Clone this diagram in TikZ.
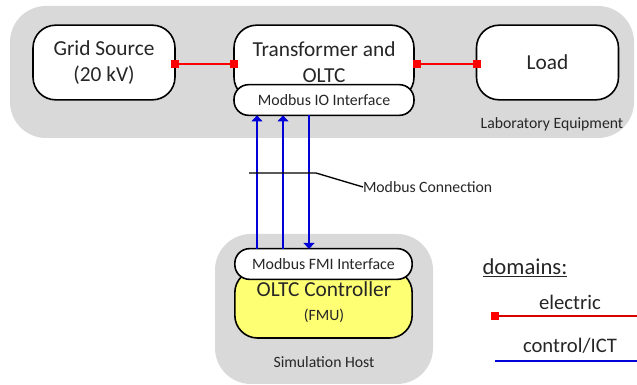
\documentclass[tikz,border=0pt]{standalone}
\usepackage{fontspec}
\setmainfont{Carlito}
\usetikzlibrary{arrows.meta}
\definecolor{txt}{HTML}{262626}
\definecolor{halo}{HTML}{D9D9D9}
\definecolor{fmu}{HTML}{FFFF73}
\tikzset{
 x=0.75pt,y=-0.75pt,
 every node/.style={text=txt,inner sep=0pt,outer sep=0pt},
 region/.style={fill=halo,draw=none,rounded corners=27pt},
 block/.style={draw=black,line width=1.2pt,fill=white,rounded corners=17pt,align=center,font=\fontsize{16}{19.5}\selectfont},
 iface/.style={draw=black,line width=1.2pt,fill=white,rounded corners=11pt,font=\fontsize{11.9}{13}\selectfont},
 small/.style={font=\fontsize{11.8}{13}\selectfont},
 big/.style={font=\fontsize{16}{18}\selectfont},
 term/.style={fill=red,minimum size=6pt},
 elec/.style={red,line width=1.3pt},
 ctrl/.style={blue!85!black,line width=1.3pt,-{Triangle[width=8pt,length=4.5pt]}},
 wire/.style={black,line width=1pt},
}
\begin{document}
\begin{tikzpicture}
\useasboundingbox (0,0) rectangle (637,385);
\node[region,minimum width=468pt,minimum height=99pt] (lab) at (322,72) {};
\node[region,minimum width=163.5pt,minimum height=112.5pt] (host) at (324,309) {};
\node[block,minimum width=106.5pt,minimum height=56pt] (grid) at (104,62.5) {Grid Source\\(20 kV)};
\node[block,minimum width=135pt,minimum height=56pt] (trafo) at (324,62.5) {Transformer and\\OLTC};
\node[block,minimum width=106.5pt,minimum height=56pt] (load) at (547.5,62.5) {Load};
\node[iface,minimum width=135pt,minimum height=23pt] (io) at (324,100) {Modbus IO Interface};
\node[block,fill=fmu,minimum width=133pt,minimum height=51pt] (ctl) at (323.5,304) {};
\node[iface,minimum width=133pt,minimum height=23pt] (fmi) at (323.5,264) {Modbus FMI Interface};
\node[big] (ctltext) at (324,289) {OLTC Controller};
\node[small] (fmutext) at (324,316) {(FMU)};
\node[small] (labtext) at (552,124) {Laboratory Equipment};
\node[small] (hosttext) at (324,362) {Simulation Host};
\node[term] (g1) at (175,64) {};
\node[term] (t1) at (234,64) {};
\node[term] (t2) at (417,64) {};
\node[term] (l1) at (477,64) {};
\draw[elec] (g1) -- (t1);
\draw[elec] (t2) -- (l1);
\coordinate (a1) at (257,249);
\coordinate (a2) at (283,249);
\coordinate (a3) at (309,249);
\draw[ctrl] (a1) -- (a1 |- io.south);
\draw[ctrl] (a2) -- (a2 |- io.south);
\draw[ctrl] (a3 |- io.south) -- (a3);
\node[small,anchor=west] (conn) at (363,187) {Modbus Connection};
\coordinate (w1) at (249,173);
\coordinate (w2) at (316,173);
\draw[wire] (w1) -- (w2) -- (conn.west);
\node[font=\fontsize{17}{20}\selectfont] (dom) at (525,268) {\underline{domains:}};
\node[font=\fontsize{15.5}{18}\selectfont] (etext) at (570,302) {electric};
\node[font=\fontsize{15.5}{18}\selectfont] (ctext) at (570,346) {control/ICT};
\node[term,minimum size=6.5pt] (e1) at (495,316) {};
\coordinate (e2) at (637,316);
\coordinate (c1) at (495,361);
\coordinate (c2) at (637,361);
\draw[red!85!black,line width=1pt] (e1) -- (e2);
\draw[blue!85!black,line width=1pt] (c1) -- (c2);
\end{tikzpicture}
\end{document}
